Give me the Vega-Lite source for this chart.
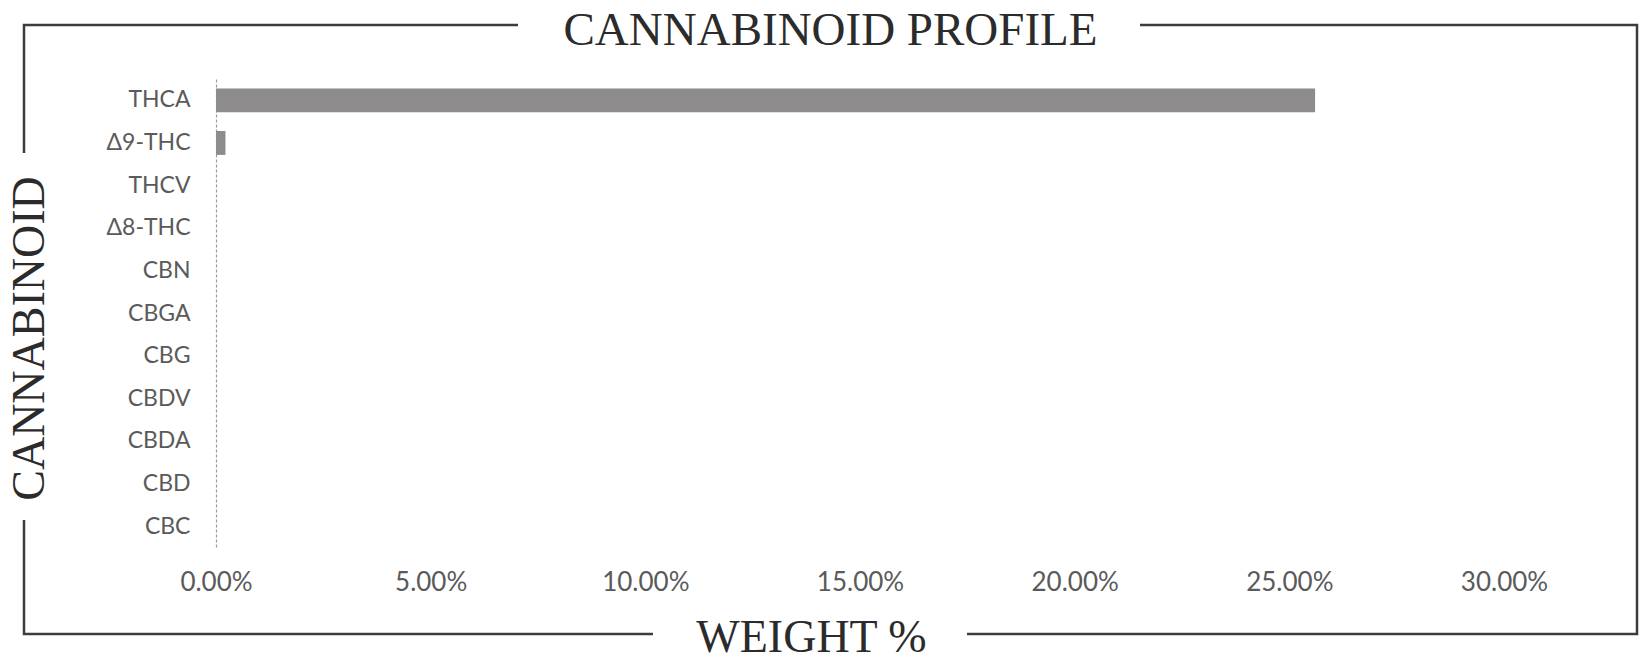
{
  "$schema": "https://vega.github.io/schema/vega-lite/v6.json",
  "width": 1613,
  "height": 609,
  "autosize": {"type": "none"},
  "padding": {"left": 24, "top": 25, "right": 11, "bottom": 26},
  "background": "#ffffff",
  "config": {
    "view": {"stroke": "#3c3c3c", "strokeWidth": 2.5, "strokeDash": [494, 622, 1776, 314, 743, 367, 128, 10000]}
  },
  "data": {
    "values": [
      {"cannabinoid": "THCA", "weight": 0.256},
      {"cannabinoid": "Δ9-THC", "weight": 0.0022},
      {"cannabinoid": "THCV", "weight": 0},
      {"cannabinoid": "Δ8-THC", "weight": 0},
      {"cannabinoid": "CBN", "weight": 0},
      {"cannabinoid": "CBGA", "weight": 0},
      {"cannabinoid": "CBG", "weight": 0},
      {"cannabinoid": "CBDV", "weight": 0},
      {"cannabinoid": "CBDA", "weight": 0},
      {"cannabinoid": "CBD", "weight": 0},
      {"cannabinoid": "CBC", "weight": 0}
    ]
  },
  "resolve": {"axis": {"x": "independent"}},
  "layer": [
    {
      "mark": {"type": "bar", "color": "#8d8b8b"},
      "encoding": {
        "y": {
          "field": "cannabinoid",
          "type": "nominal",
          "sort": null,
          "scale": {"range": [54, 523], "paddingInner": 0.44, "paddingOuter": 0.22},
          "axis": {
            "title": "CANNABINOID",
            "orient": "left",
            "offset": -192,
            "grid": false,
            "domain": true,
            "domainColor": "#9b9b9b",
            "domainDash": [3, 2],
            "domainWidth": 1.2,
            "ticks": false,
            "labelPadding": 26,
            "labelFont": "Lato",
            "labelFontSize": 23,
            "labelColor": "#5a5a5a",
            "titleFont": "Liberation Serif",
            "titleFontSize": 46,
            "titleFontWeight": "normal",
            "titleColor": "#2b2b2b",
            "titleX": -187,
            "titleY": 313,
            "titleAngle": 270,
            "titleAlign": "center",
            "titleBaseline": "middle"
          }
        },
        "x": {
          "field": "weight",
          "type": "quantitative",
          "scale": {"domain": [0, 0.3], "range": [192, 1480]},
          "axis": {
            "title": "WEIGHT %",
            "orient": "bottom",
            "offset": -86,
            "grid": false,
            "domain": false,
            "ticks": false,
            "format": ".2%",
            "values": [0, 0.05, 0.1, 0.15, 0.2, 0.25, 0.3],
            "labelFont": "Lato",
            "labelFontSize": 26,
            "labelColor": "#5a5a5a",
            "labelPadding": 34,
            "labelBaseline": "middle",
            "labelFlush": false,
            "labelOverlap": false,
            "titleFont": "Liberation Serif",
            "titleFontSize": 46,
            "titleFontWeight": "normal",
            "titleColor": "#2b2b2b",
            "titleX": 787,
            "titleY": 89,
            "titleAlign": "center",
            "titleBaseline": "middle"
          }
        }
      }
    },
    {
      "mark": {"type": "bar", "opacity": 0},
      "encoding": {
        "y": {
          "field": "cannabinoid",
          "type": "nominal",
          "sort": null,
          "scale": {"range": [54, 523], "paddingInner": 0.44, "paddingOuter": 0.22},
          "axis": {
            "title": "CANNABINOID",
            "orient": "left",
            "offset": -192,
            "grid": false,
            "domain": true,
            "domainColor": "#9b9b9b",
            "domainDash": [3, 2],
            "domainWidth": 1.2,
            "ticks": false,
            "labelPadding": 26,
            "labelFont": "Lato",
            "labelFontSize": 23,
            "labelColor": "#5a5a5a",
            "titleFont": "Liberation Serif",
            "titleFontSize": 46,
            "titleFontWeight": "normal",
            "titleColor": "#2b2b2b",
            "titleX": -187,
            "titleY": 313,
            "titleAngle": 270,
            "titleAlign": "center",
            "titleBaseline": "middle"
          }
        },
        "x": {
          "field": "weight",
          "type": "quantitative",
          "scale": {"domain": [0, 0.3], "range": [192, 1480]},
          "axis": {
            "title": "CANNABINOID PROFILE",
            "orient": "top",
            "offset": 0,
            "grid": false,
            "domain": false,
            "ticks": false,
            "labels": false,
            "titleFont": "Liberation Serif",
            "titleFontSize": 47,
            "titleFontWeight": "normal",
            "titleColor": "#2b2b2b",
            "titleX": 806,
            "titleY": 5,
            "titleAlign": "center",
            "titleBaseline": "middle"
          }
        }
      }
    }
  ]
}
